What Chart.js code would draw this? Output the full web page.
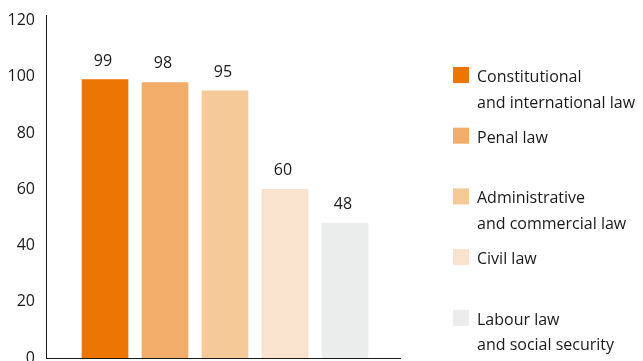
<!DOCTYPE html>
<html>
<head>
<meta charset="utf-8">
<script src="https://cdn.jsdelivr.net/npm/chart.js@4.4.1/dist/chart.umd.min.js"></script>
<style>
  html, body { margin: 0; padding: 0; background: #fff; }
  #wrap { width: 643px; height: 361px; }
</style>
</head>
<body>
<div id="wrap"><canvas id="myChart"></canvas></div>
<script>
const categories = [
    ['Constitutional', 'and international law'],
    ['Penal law'],
    ['Administrative', 'and commercial law'],
    ['Civil law'],
    ['Labour law', 'and social security']
];
const values = [99, 98, 95, 60, 48];
const colors = ['#ED7603', '#F2AD6A', '#F6C998', '#FAE3CE', '#EBECEC'];
const yTicks = [0, 20, 40, 60, 80, 100, 120];

const FONT = "'Open Sans', sans-serif";

const ctx = document.getElementById('myChart').getContext('2d');

// one dataset per bar so every bar gets its own legend entry
const datasets = values.map((v, i) => ({
    label: categories[i],
    data: [{ x: i + 1, y: v }],
    backgroundColor: colors[i],
    borderWidth: 0,
    grouped: false,
    barThickness: 46
}));

const valueLabels = {
    id: 'valueLabels',
    afterDatasetsDraw(chart) {
        const c = chart.ctx;
        c.save();
        c.font = '16px ' + FONT;
        c.fillStyle = '#1a1a1a';
        c.textAlign = 'center';
        c.textBaseline = 'alphabetic';
        chart.data.datasets.forEach((ds, i) => {
            const bar = chart.getDatasetMeta(i).data[0];
            c.fillText(String(ds.data[0].y), bar.x - 2, bar.y - 14);
        });
        c.restore();
    }
};

const sideLegend = {
    id: 'sideLegend',
    afterDraw(chart) {
        const c = chart.ctx;
        c.save();
        c.font = '16px ' + FONT;
        c.textAlign = 'left';
        c.textBaseline = 'alphabetic';
        chart.data.datasets.forEach((ds, i) => {
            const top = 67 + i * 60.7;
            c.fillStyle = ds.backgroundColor;
            c.fillRect(453, top, 16, 16);
            c.fillStyle = '#1a1a1a';
            ds.label.forEach((line, j) => {
                c.fillText(line, 477, top + 15 + j * 25.5);
            });
        });
        c.restore();
    }
};

new Chart(ctx, {
    type: 'bar',
    data: { datasets: datasets },
    options: {
        responsive: true,
        maintainAspectRatio: false,
        animation: false,
        layout: { padding: { top: 15, right: 243, left: 0, bottom: 0 } },
        plugins: {
            legend: { display: false },
            tooltip: { enabled: false }
        },
        scales: {
            x: {
                type: 'linear',
                offset: false,
                min: 1 - 59 / 60,
                max: 1 + 295 / 60,
                grid: { display: false, drawTicks: false },
                ticks: { display: false },
                border: { display: true, color: '#1a1a1a', width: 1 },
                afterFit(scale) {
                    scale.height = 3;
                    scale.paddingLeft = 0;
                    scale.paddingRight = 0;
                }
            },
            y: {
                min: 0,
                max: 122,
                grid: { display: false, drawTicks: false },
                border: { display: true, color: '#1a1a1a', width: 1 },
                afterBuildTicks(scale) {
                    scale.ticks = yTicks.map(v => ({ value: v }));
                },
                ticks: {
                    padding: 11,
                    color: '#1a1a1a',
                    font: { family: FONT, size: 16 }
                },
                afterFit(scale) {
                    scale.width = 46;
                    scale.paddingTop = 0;
                    scale.paddingBottom = 0;
                }
            }
        }
    },
    plugins: [valueLabels, sideLegend]
});
</script>
</body>
</html>
